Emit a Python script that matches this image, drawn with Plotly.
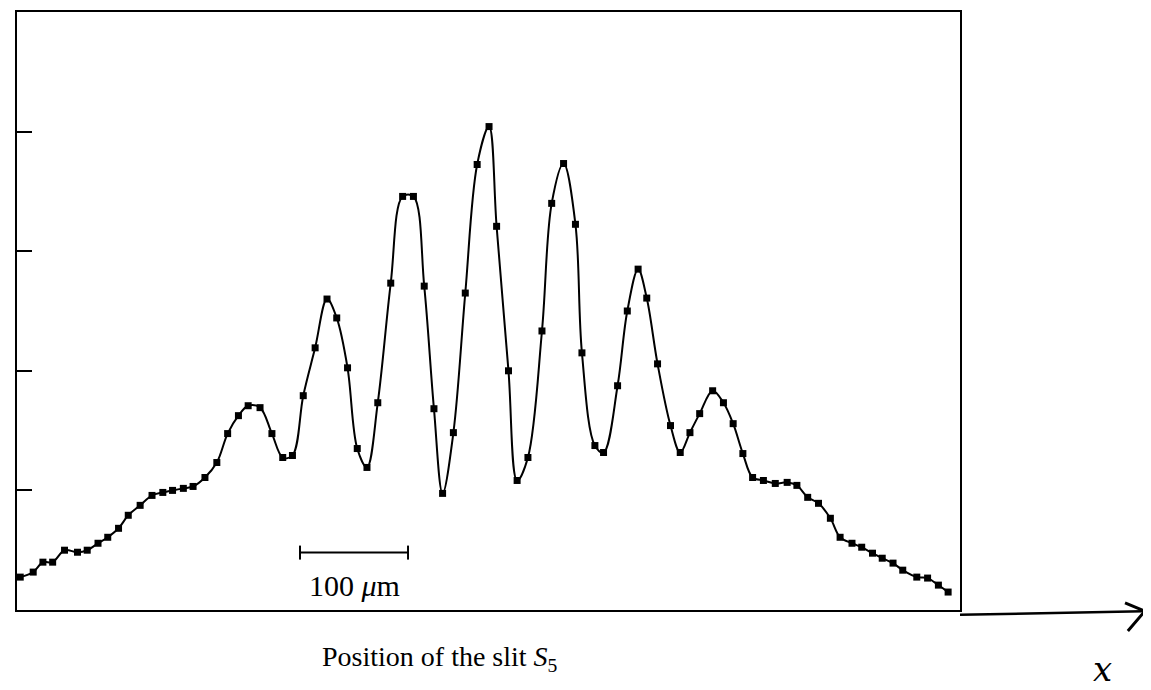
import plotly.graph_objects as go

# Slit position (micrometres from left edge of frame) and detected intensity (arbitrary units)
position_um = [3, 15, 24, 33, 44, 56, 65, 75, 84, 94, 103, 114, 125, 135, 144, 154, 163, 174,
               185, 195, 205, 214, 225, 236, 246, 255, 265, 276, 287, 296, 306, 315, 324, 334,
               346, 357, 367, 377, 386, 394, 404, 415, 426, 437, 444, 455, 463, 473, 486, 495,
               506, 517, 523, 535, 543, 556, 565, 575, 583, 593, 605, 614, 623, 632, 644, 654,
               663, 672, 681, 691, 702, 713, 722, 732, 742, 753, 762, 773, 782, 792, 801, 811,
               820, 833, 843, 853, 862]
intensity = [0.275, 0.317, 0.40, 0.40, 0.50, 0.483, 0.50, 0.558, 0.608, 0.683, 0.792, 0.875,
             0.958, 0.983, 1.00, 1.017, 1.033, 1.108, 1.233, 1.475, 1.625, 1.708, 1.692, 1.475,
             1.275, 1.292, 1.792, 2.192, 2.60, 2.442, 2.025, 1.35, 1.192, 1.733, 2.733, 3.458,
             3.458, 2.708, 1.683, 0.975, 1.483, 2.65, 3.725, 4.042, 3.208, 2.00, 1.083, 1.275,
             2.333, 3.40, 3.733, 3.225, 2.15, 1.375, 1.317, 1.875, 2.50, 2.85, 2.608, 2.058,
             1.542, 1.317, 1.483, 1.642, 1.833, 1.733, 1.558, 1.308, 1.108, 1.083, 1.058, 1.067,
             1.042, 0.942, 0.892, 0.767, 0.608, 0.558, 0.525, 0.475, 0.433, 0.392, 0.333, 0.275,
             0.267, 0.208, 0.15]

y_ticks = [1, 2, 3, 4]
x_range = [0, 873]
y_range = [0, 5]
scale_bar_start = 262
scale_bar_length = 100
scale_bar_level = 0.48

fig = go.Figure()
fig.add_trace(go.Scatter(
    x=position_um, y=intensity, mode="lines+markers",
    line=dict(color="black", width=2, shape="spline", smoothing=1.0),
    marker=dict(symbol="square", size=7, color="black"),
    showlegend=False, hoverinfo="skip"))

# scale bar
fig.add_trace(go.Scatter(
    x=[scale_bar_start, scale_bar_start + scale_bar_length],
    y=[scale_bar_level, scale_bar_level], mode="lines+markers",
    line=dict(color="black", width=2),
    marker=dict(symbol="line-ns", size=10, line=dict(color="black", width=2)),
    showlegend=False, hoverinfo="skip"))
fig.add_annotation(x=scale_bar_start + scale_bar_length / 2, y=scale_bar_level,
                   yshift=-33, text="100 <i>μ</i>m", showarrow=False,
                   font=dict(family="Liberation Serif", size=30, color="black"))

# x-axis extension with hand-drawn arrow
fig.add_shape(type="line", xref="paper", yref="paper", x0=1.0, y0=-0.008, x1=1.196, y1=-0.002,
              line=dict(color="black", width=2.5))
fig.add_shape(type="path", xref="paper", yref="paper",
              path="M 1.175 0.012 L 1.196 -0.002 L 1.178 -0.035",
              line=dict(color="black", width=3))

fig.add_annotation(xref="paper", yref="paper", x=0.449, y=-0.113,
                   text="Position of the slit <i>S</i><sub>5</sub>",
                   showarrow=False, font=dict(family="Liberation Serif", size=28, color="black"))
fig.add_annotation(xref="paper", yref="paper", x=1.163, y=-0.135, text="<i>x</i>",
                   showarrow=False, font=dict(family="DejaVu Serif", size=34, color="black"))

fig.update_xaxes(range=x_range, showline=True, linecolor="black", linewidth=2, mirror=True,
                 showticklabels=False, ticks="", showgrid=False, zeroline=False)
fig.update_yaxes(range=y_range, showline=True, linecolor="black", linewidth=2, mirror=True,
                 tickvals=y_ticks, ticks="inside", ticklen=15, tickwidth=2, tickcolor="black",
                 showticklabels=False, showgrid=False, zeroline=False)
fig.update_layout(width=1151, height=690, margin=dict(l=9, r=199, t=2, b=88),
                  plot_bgcolor="white", paper_bgcolor="white")
fig.write_html("out.html")
